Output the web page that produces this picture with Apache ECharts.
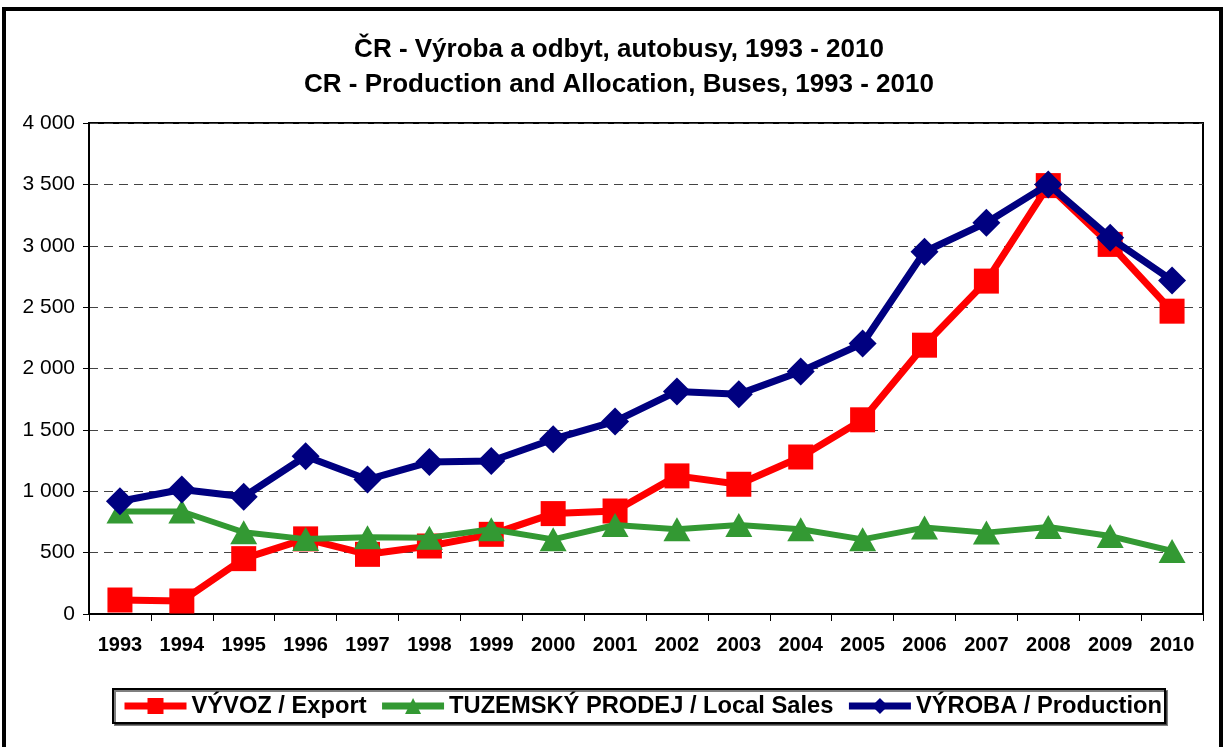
<!DOCTYPE html>
<html>
<head>
<meta charset="utf-8">
<title>ČR - Výroba a odbyt, autobusy</title>
<script src="https://cdn.jsdelivr.net/npm/echarts@6/dist/echarts.min.js"></script>
<style>
  html, body { margin: 0; padding: 0; background: #fff; }
  #chart { width: 1226px; height: 747px; }
</style>
</head>
<body>
<div id="chart"></div>
<script>
// years on the x axis
var years = ['1993','1994','1995','1996','1997','1998','1999','2000','2001',
             '2002','2003','2004','2005','2006','2007','2008','2009','2010'];
// values
var exportVals = [114, 106, 451, 612, 486, 554, 649, 818, 839, 1125, 1057, 1279, 1582, 2190, 2712, 3490, 3011, 2467];
var localVals  = [835, 835, 666, 610, 625, 622, 690, 608, 725, 690, 725, 690, 608, 704, 663, 709, 635, 513];
var prodVals   = [919, 1014, 955, 1285, 1095, 1238, 1247, 1424, 1569, 1813, 1791, 1976, 2204, 2951, 3188, 3500, 3065, 2717];
var seriesNames = ['VÝVOZ / Export', 'TUZEMSKÝ PRODEJ / Local Sales', 'VÝROBA / Production'];

var font = 'Arial, "Liberation Sans", sans-serif';

function thousands(v) {
    return String(v).replace(/\B(?=(\d{3})+(?!\d))/g, ' ');
}

var option = {
    animation: false,
    backgroundColor: '#fff',
    title: {
        text: 'ČR - Výroba a odbyt, autobusy, 1993 - 2010\nCR - Production and Allocation, Buses, 1993 - 2010',
        left: 614,
        textAlign: 'center',
        top: 27,
        textStyle: { fontFamily: font, fontSize: 26, fontWeight: 'bold', color: '#000', lineHeight: 35 }
    },
    graphic: [{
        type: 'rect',
        shape: { x: 4, y: 9, width: 1217, height: 760 },
        style: { fill: 'none', stroke: '#000', lineWidth: 4 },
        silent: true
    }],
    legend: {
        data: seriesNames,
        left: 113,
        top: 689,
        padding: [5, 3, 5, 8],
        itemGap: 12,
        itemWidth: 62,
        itemHeight: 20,
        borderColor: '#000',
        borderWidth: 2,
        backgroundColor: '#fff',
        shadowColor: 'rgba(0,0,0,0.5)',
        shadowOffsetX: 2,
        shadowOffsetY: 2,
        lineStyle: { width: 7 },
        textStyle: { fontFamily: font, fontSize: 23.7, fontWeight: 'bold', color: '#000' }
    },
    grid: {
        left: 89, top: 123, right: 23, bottom: 133,
        show: true, borderColor: '#000', borderWidth: 2, backgroundColor: '#fff'
    },
    xAxis: {
        type: 'category',
        data: years,
        boundaryGap: true,
        axisLine: { lineStyle: { color: '#000', width: 2 } },
        axisTick: { show: true, length: 7, lineStyle: { color: '#000', width: 1 } },
        axisLabel: { fontFamily: font, fontSize: 20, fontWeight: 'bold', color: '#000', margin: 21, interval: 0 }
    },
    yAxis: {
        type: 'value',
        min: 0, max: 4000, interval: 500,
        axisLine: { show: true, lineStyle: { color: '#000', width: 2 } },
        axisTick: { show: true, length: 6, lineStyle: { color: '#000', width: 1 } },
        axisLabel: { fontFamily: font, fontSize: 21, color: '#000', margin: 14, formatter: thousands },
        splitLine: { lineStyle: { color: '#444', type: [9, 6], width: 1 } }
    },
    series: [
        {
            name: seriesNames[0], type: 'line', data: exportVals, z: 2,
            symbol: 'rect', symbolSize: 25,
            lineStyle: { color: '#ff0000', width: 7 },
            itemStyle: { color: '#ff0000' }
        },
        {
            name: seriesNames[1], type: 'line', data: localVals, z: 3,
            symbol: 'triangle', symbolSize: [27, 24],
            lineStyle: { color: '#339933', width: 6 },
            itemStyle: { color: '#339933' }
        },
        {
            name: seriesNames[2], type: 'line', data: prodVals, z: 4,
            symbol: 'diamond', symbolSize: 28,
            lineStyle: { color: '#000080', width: 7 },
            itemStyle: { color: '#000080' }
        }
    ]
};

var mychart = echarts.init(document.getElementById('chart'));
mychart.setOption(option);
</script>
</body>
</html>
